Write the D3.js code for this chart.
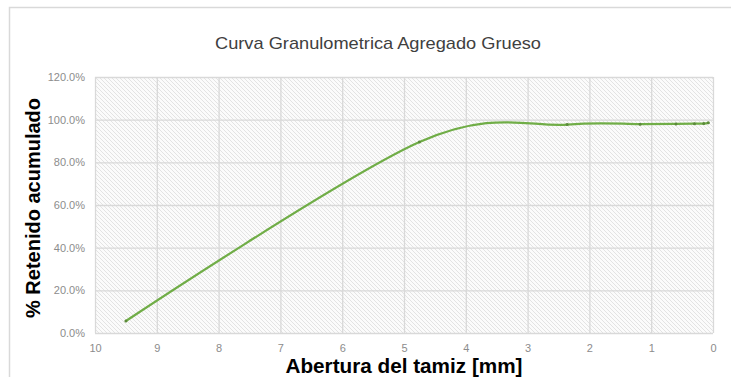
<!DOCTYPE html>
<html lang="es">
<head>
  <meta charset="UTF-8" />
  <title>Curva Granulometrica Agregado Grueso</title>
  <script src="https://d3js.org/d3.v7.min.js"></script>
  <style>
    body { margin: 0; background: #fff; font-family: "Liberation Sans", Arial, sans-serif; }
    .tick text { fill: #8c8c8c; font-size: 11px; }
    .grid line { stroke: #d9d9d9; stroke-width: 1.3; }
  </style>
</head>
<body>
  <svg id="chart" width="731" height="377"></svg>
  <script>
  // sieve openings (mm) and cumulative retained (%)
  const abertura = [9.5, 4.75, 2.36, 1.18, 0.6, 0.3, 0.15, 0.075];
  const retenido = [5.6, 89.5, 97.7, 97.9, 98.0, 98.1, 98.2, 98.5];
  const xTicks = [10, 9, 8, 7, 6, 5, 4, 3, 2, 1, 0];
  const yTicks = [0, 20, 40, 60, 80, 100, 120];

  const data = abertura.map((a, i) => ({ x: a, y: retenido[i] }));

  const svg = d3.select("#chart"),
        margin = { top: 77, right: 18, bottom: 44, left: 95 },
        width = +svg.attr("width") - margin.left - margin.right,
        height = +svg.attr("height") - margin.top - margin.bottom;

  // outer chart border
  svg.append("rect")
    .attr("x", 9.5).attr("y", 7.5).attr("width", 740).attr("height", 400)
    .attr("fill", "none").attr("stroke", "#d9d9d9").attr("stroke-width", 1.5);

  const defs = svg.append("defs");
  const pat = defs.append("pattern")
    .attr("id", "hatch").attr("patternUnits", "userSpaceOnUse")
    .attr("width", 4).attr("height", 4);
  pat.append("rect").attr("width", 4).attr("height", 4).attr("fill", "#fbfbfb");
  pat.append("path").attr("d", "M-1,-1 L5,5 M-1,3 L1,5 M3,-1 L5,1")
    .attr("stroke", "#e3e3e3").attr("stroke-width", 1);

  const g = svg.append("g").attr("transform", `translate(${margin.left},${margin.top})`);

  const x = d3.scaleLinear().domain([10, 0]).range([0, width]);
  const y = d3.scaleLinear().domain([0, 120]).range([height, 0]);

  g.append("rect").attr("width", width).attr("height", height).attr("fill", "url(#hatch)");

  // gridlines
  g.append("g").attr("class", "grid")
    .call(d3.axisLeft(y).tickValues(yTicks).tickSize(-width).tickFormat(""))
    .call(s => s.select(".domain").remove());
  g.append("g").attr("class", "grid")
    .call(d3.axisBottom(x).tickValues(xTicks).tickSize(height).tickFormat(""))
    .call(s => s.select(".domain").remove());

  // axes labels
  g.append("g")
    .call(d3.axisLeft(y).tickValues(yTicks).tickSize(0).tickPadding(10).tickFormat(d => d.toFixed(1) + "%"))
    .call(s => s.select(".domain").remove());
  g.append("g").attr("transform", `translate(0,${height})`)
    .call(d3.axisBottom(x).tickValues(xTicks).tickSize(0).tickPadding(11))
    .call(s => s.select(".domain").remove());

  const line = d3.line()
    .x(d => x(d.x)).y(d => y(d.y))
    .curve(d3.curveCardinal.tension(0));

  g.append("path").datum(data)
    .attr("fill", "none").attr("stroke", "#70ad47").attr("stroke-width", 2.25)
    .attr("d", line);

  g.selectAll(".pt").data(data).join("circle")
    .attr("class", "pt")
    .attr("cx", d => x(d.x)).attr("cy", d => y(d.y)).attr("r", 1.5)
    .attr("fill", "#5b8a3a");

  svg.append("text")
    .attr("x", 378).attr("y", 49).attr("text-anchor", "middle")
    .attr("fill", "#404040").style("font-size", "17px")
    .attr("textLength", 326).attr("lengthAdjust", "spacingAndGlyphs")
    .text("Curva Granulometrica Agregado Grueso");

  svg.append("text")
    .attr("x", 404).attr("y", 373).attr("text-anchor", "middle")
    .attr("fill", "#000").style("font-size", "20px").style("font-weight", "bold")
    .attr("textLength", 237).attr("lengthAdjust", "spacingAndGlyphs")
    .text("Abertura del tamiz [mm]");

  svg.append("text")
    .attr("transform", "translate(40,208) rotate(-90)").attr("text-anchor", "middle")
    .attr("fill", "#000").style("font-size", "20px").style("font-weight", "bold")
    .attr("textLength", 220).attr("lengthAdjust", "spacingAndGlyphs")
    .text("% Retenido acumulado");
  </script>
</body>
</html>
